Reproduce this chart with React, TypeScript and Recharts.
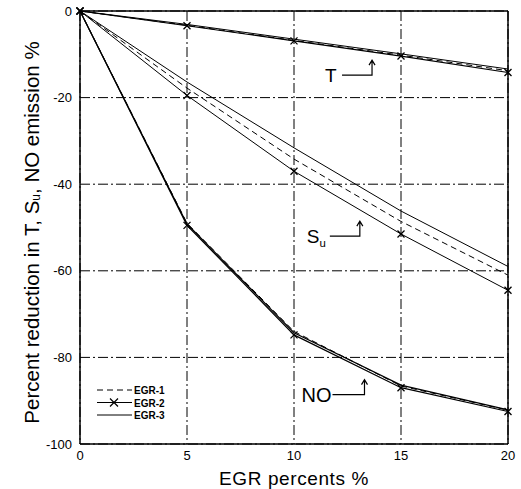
import { LineChart, Line, XAxis, YAxis, CartesianGrid, ReferenceDot, Legend } from 'recharts'

// EGR percentage on the x axis
const egrPercent = [0, 5, 10, 15, 20]

// Temperature reduction (T)
const tEgr1 = [0, -3.3, -6.8, -10.2, -13.8]
const tEgr2 = [0, -3.4, -6.9, -10.4, -14.2]
const tEgr3 = [0, -3.1, -6.5, -9.9, -13.4]

// Burning velocity reduction (Su)
const suEgr1 = [0, -17.8, -34.2, -48.6, -61]
const suEgr2 = [0, -19.5, -37, -51.5, -64.5]
const suEgr3 = [0, -16.4, -31.6, -46.2, -59]

// NO emission reduction
const noEgr1 = [0, -49, -74, -86.6, -92.2]
const noEgr2 = [0, -49.5, -74.8, -87, -92.5]
const noEgr3 = [0, -49.2, -74.3, -86.4, -92.1]

const xTicks = [0, 5, 10, 15, 20]
const xMinorTicks = [2.5, 7.5, 12.5, 17.5]
const yTicks = [0, -20, -40, -60, -80, -100]
const yMinorTicks = [-10, -30, -50, -70, -90]

const legendItems = ['EGR-1', 'EGR-2', 'EGR-3']

const FONT = '"Liberation Sans", Arial, sans-serif'

const data = egrPercent.map((egr, i) => ({
    egr,
    tEgr1: tEgr1[i],
    tEgr2: tEgr2[i],
    tEgr3: tEgr3[i],
    suEgr1: suEgr1[i],
    suEgr2: suEgr2[i],
    suEgr3: suEgr3[i],
    noEgr1: noEgr1[i],
    noEgr2: noEgr2[i],
    noEgr3: noEgr3[i],
}))

const XMark = (props: any) => {
    const { cx, cy, index } = props
    if (cx == null || cy == null) return <g key={index} />
    const s = 3.5
    return (
        <path
            key={index}
            d={`M${cx - s},${cy - s}L${cx + s},${cy + s}M${cx - s},${cy + s}L${cx + s},${cy - s}`}
            stroke="#000"
            strokeWidth={1.3}
        />
    )
}

// text label followed by a hooked arrow pointing up
const makeAnnotation = (name: string, sub: string | null, fontSize: number, lineFrom: number, lineTo: number) => (props: any) => {
    const { viewBox } = props
    const x = viewBox.x
    const y = viewBox.y
    const ax = x + lineTo
    return (
        <g>
            <text x={x} y={y + fontSize * 0.36} fontSize={fontSize} fontFamily={FONT} fill="#000">
                {name}
                {sub && <tspan fontSize={fontSize * 0.6} dy={fontSize * 0.2}>{sub}</tspan>}
            </text>
            <path
                d={`M${x + lineFrom},${y}L${ax},${y}L${ax},${y - 15}M${ax - 3},${y - 10}L${ax},${y - 15}L${ax + 3},${y - 10}`}
                stroke="#000"
                strokeWidth={1.2}
                fill="none"
            />
        </g>
    )
}

const renderLegend = () => (
    <svg width={80} height={42}>
        {legendItems.map((name, i) => {
            const y = 6 + i * 12.5
            return (
                <g key={name}>
                    <line
                        x1={2}
                        x2={37}
                        y1={y}
                        y2={y}
                        stroke="#000"
                        strokeWidth={1}
                        strokeDasharray={i === 0 ? '6 4' : undefined}
                    />
                    {i === 1 && (
                        <path d={`M${19 - 4},${y - 4}L${19 + 4},${y + 4}M${19 - 4},${y + 4}L${19 + 4},${y - 4}`} stroke="#000" strokeWidth={1.2} />
                    )}
                    <text x={39} y={y + 4} fontSize={10} fontFamily={FONT} fontWeight={700} fill="#000">
                        {name}
                    </text>
                </g>
            )
        })}
    </svg>
)

export default function App() {
    return (
        <div style={{ width: 521, height: 489, background: '#fff' }}>
            <style>{`body { margin: 0; }`}</style>
            <LineChart width={521} height={489} data={data} margin={{ top: 11, right: 13, bottom: 0, left: 0 }}>
                <CartesianGrid stroke="#000" strokeDasharray="10 3 2 3" strokeWidth={1} />
                <XAxis
                    dataKey="egr"
                    type="number"
                    domain={[0, 20]}
                    ticks={xTicks}
                    height={45}
                    tickLine={false}
                    axisLine={{ stroke: '#000', strokeWidth: 1.5 }}
                    tick={{ fill: '#000', fontSize: 13, fontFamily: FONT }}
                    tickMargin={1}
                    label={{ value: 'EGR percents %', position: 'insideBottom', offset: 4, fill: '#000', fontSize: 19, fontFamily: FONT, letterSpacing: 0.6 }}
                />
                <XAxis xAxisId="bm" type="number" domain={[0, 20]} ticks={xMinorTicks} mirror tick={false} tickSize={4} tickLine={{ stroke: '#000' }} axisLine={false} />
                <XAxis xAxisId="tm" orientation="top" type="number" domain={[0, 20]} ticks={xMinorTicks} mirror tick={false} tickSize={4} tickLine={{ stroke: '#000' }} axisLine={{ stroke: '#000', strokeWidth: 1.5 }} />
                <YAxis
                    type="number"
                    domain={[-100, 0]}
                    ticks={yTicks}
                    width={80}
                    tickLine={false}
                    axisLine={{ stroke: '#000', strokeWidth: 1.5 }}
                    tick={{ fill: '#000', fontSize: 13, fontFamily: FONT }}
                    tickMargin={2}
                    label={(props: any) => {
                        const vb = props.viewBox
                        const cx = 31
                        const cy = vb.y + vb.height / 2 + 5
                        return (
                            <text
                                x={cx}
                                y={cy}
                                transform={`rotate(-90 ${cx} ${cy})`}
                                textAnchor="middle"
                                dominantBaseline="central"
                                fontSize={20.5}
                                fontFamily={FONT}
                                fill="#000"
                            >
                                Percent reduction in T, S
                                <tspan fontSize={12} dy={5}>u</tspan>
                                <tspan dy={-5}>, NO emission %</tspan>
                            </text>
                        )
                    }}
                />
                <YAxis yAxisId="lm" type="number" domain={[-100, 0]} ticks={yMinorTicks} mirror tick={false} tickSize={4} tickLine={{ stroke: '#000' }} axisLine={false} />
                <YAxis yAxisId="rm" orientation="right" type="number" domain={[-100, 0]} ticks={yMinorTicks} mirror tick={false} tickSize={4} tickLine={{ stroke: '#000' }} axisLine={{ stroke: '#000', strokeWidth: 1.5 }} />

                <Line dataKey="tEgr1" stroke="#000" strokeWidth={1} strokeDasharray="6 4" dot={false} isAnimationActive={false} />
                <Line dataKey="tEgr3" stroke="#000" strokeWidth={1} dot={false} isAnimationActive={false} />
                <Line dataKey="tEgr2" stroke="#000" strokeWidth={1.2} dot={XMark} isAnimationActive={false} />

                <Line dataKey="suEgr1" stroke="#000" strokeWidth={1} strokeDasharray="6 4" dot={false} isAnimationActive={false} />
                <Line dataKey="suEgr3" stroke="#000" strokeWidth={1} dot={false} isAnimationActive={false} />
                <Line dataKey="suEgr2" stroke="#000" strokeWidth={1} dot={XMark} isAnimationActive={false} />

                <Line dataKey="noEgr1" stroke="#000" strokeWidth={1} strokeDasharray="6 4" dot={false} isAnimationActive={false} />
                <Line dataKey="noEgr3" stroke="#000" strokeWidth={1.2} dot={false} isAnimationActive={false} />
                <Line dataKey="noEgr2" stroke="#000" strokeWidth={1.2} dot={XMark} isAnimationActive={false} />

                <ReferenceDot x={11.45} y={-14.8} r={0} stroke="none" label={makeAnnotation('T', null, 19, 17, 47)} />
                <ReferenceDot x={10.6} y={-52} r={0} stroke="none" label={makeAnnotation('S', 'u', 19, 23, 53)} />
                <ReferenceDot x={10.35} y={-88.6} r={0} stroke="none" label={makeAnnotation('NO', null, 20, 31, 63)} />

                <Legend
                    layout="vertical"
                    align="center"
                    verticalAlign="middle"
                    content={renderLegend}
                    wrapperStyle={{ left: 95, top: 384, width: 80, height: 42 }}
                />
            </LineChart>
        </div>
    )
}
